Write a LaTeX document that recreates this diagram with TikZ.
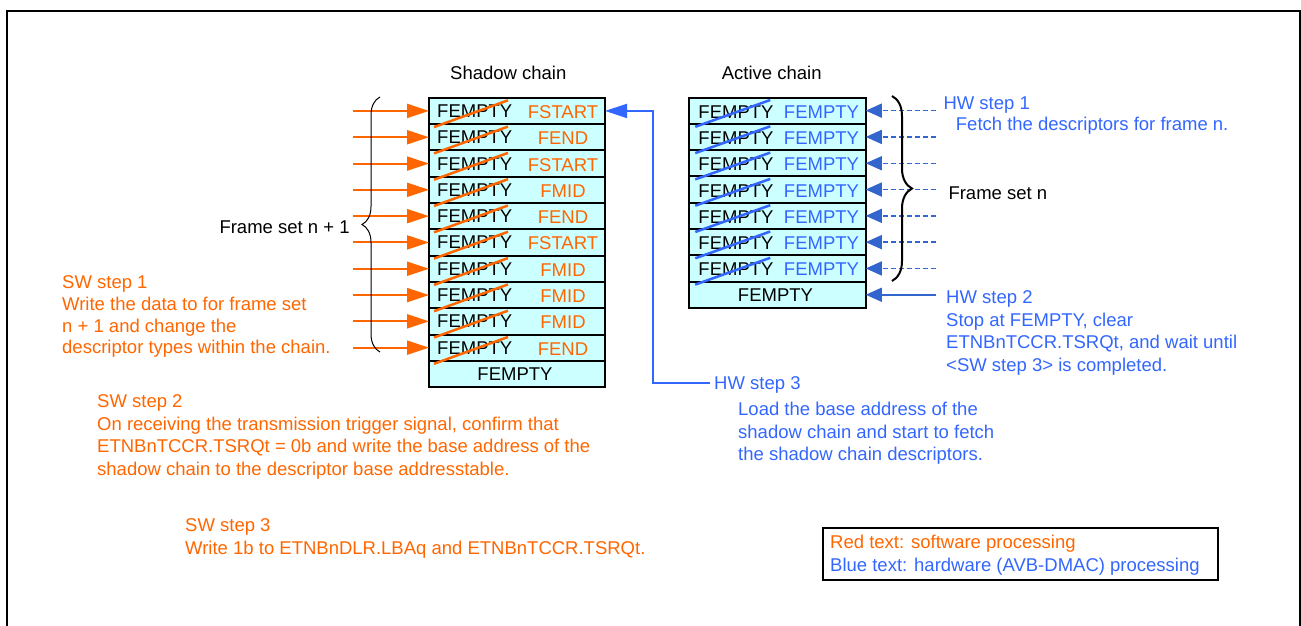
\documentclass[tikz,border=0pt]{standalone}
\usepackage{fontspec}
\setmainfont{Liberation Sans}
\usetikzlibrary{arrows.meta,calc,decorations.pathreplacing}
\definecolor{swc}{RGB}{255,102,0}
\definecolor{hwc}{RGB}{51,102,255}
\definecolor{hwa}{RGB}{51,102,204}
\definecolor{cellc}{RGB}{204,255,255}
\newcommand\diagfs{\fontsize{18.5}{22}\selectfont}
\begin{document}
\begin{tikzpicture}[x=1pt,y=-1pt,
  cell/.style={draw, line width=2pt, fill=cellc, minimum width=176pt, minimum height=26.3pt, inner sep=0pt, outer sep=0pt},
  lbl/.style={inner sep=0pt, font=\diagfs},
  lw/.style={lbl, anchor=base west},
  oarr/.style={draw=swc, line width=2pt, -{Triangle[length=22pt,width=14pt]}},
  barr/.style={draw=hwa, line width=1.5pt, -{Triangle[length=16pt,width=14pt]}},
  hwarr/.style={draw=hwc, line width=2pt, -{Triangle[length=22pt,width=14pt]}},
  ostrike/.style={draw=swc, line width=2.5pt},
  bstrike/.style={draw=hwc, line width=2.5pt}]
\useasboundingbox (0,0) rectangle (1301,626);
% outer frame
\draw[line width=2pt] (6.8,640) -- (6.8,11) -- (1299.5,11) -- (1299.5,640);

% ---- shadow chain
\foreach \i/\lab in {1/FSTART,2/FEND,3/FSTART,4/FMID,5/FEND,6/FSTART,7/FMID,8/FMID,9/FMID,10/FEND}{
  \node[cell] (s\i) at (517,{84.65+26.3*\i}) {};
  \node[lw] (sl\i) at ($(s\i.west)+(8,6.5)$) {FEMPTY};
  \node[lbl, anchor=base, text=swc] (sr\i) at ($(s\i.center)+(46,7.5)$) {\lab};
}
\node[cell] (s11) at (517,373.95) {};
\node[lbl, anchor=base] (sl11) at ($(s11.center)+(-2,7)$) {FEMPTY};
\foreach \i in {1,...,10}{
  \draw[ostrike] ($(s\i.south west)+(5,3)$) -- ($(s\i.north west)+(79,2.5)$);
}
\foreach \i in {1,...,10}{
  \coordinate (so\i) at (353,{84.65+26.3*\i});
  \draw[oarr] (so\i) -- (s\i.west);
}

% ---- active chain
\foreach \i in {1,...,7}{
  \node[cell, minimum width=176.5pt] (a\i) at (777.5,{84.35+26.3*\i}) {};
  \node[lw] (al\i) at ($(a\i.west)+(9,7.5)$) {FEMPTY};
  \node[lbl, anchor=base, text=hwc] (ar\i) at ($(a\i.center)+(44,7.5)$) {FEMPTY};
}
\node[cell, minimum width=176.5pt] (a8) at (777.5,294.75) {};
\node[lbl, anchor=base] (al8) at ($(a8.center)+(-2,7)$) {FEMPTY};
\foreach \i in {1,...,7}{
  \draw[bstrike] ($(a\i.south west)+(6,3)$) -- ($(a\i.north west)+(81,2.5)$);
}
\foreach \i in {1,...,7}{
  \coordinate (ad\i) at (936,{84.35+26.3*\i});
  \draw[barr, dash pattern=on 5pt off 3pt] (ad\i) -- (a\i.east);
}
\coordinate (h2s) at (936,294.75);
\draw[barr] (h2s) -- (a8.east);

% ---- braces
\draw[line width=1pt, decorate, decoration={brace, amplitude=18pt}] (380,352) -- (380,97);
\draw[line width=2pt, decorate, decoration={brace, amplitude=20pt}] (892,96) -- (892,281);

% ---- HW step 3 connector
\coordinate (h3e) at (710,383.3);
\coordinate (h3k) at (652.7,110.95);
\draw[hwarr] (h3e) -| (h3k) -- (s1.east);

% ---- titles
\node[lw] (tsh) at (450,80) {Shadow chain};
\node[lw] (tac) at (721.7,80) {Active chain};
\node[lw] (fsn1) at (219.3,233.3) {Frame set n + 1};
\node[lw] (fsn) at (948.3,199.5) {Frame set n};

% ---- HW texts
\node[lw, text=hwc] (hw1a) at (943.3,109.5) {HW step 1};
\node[lw, text=hwc] (hw1b) at (955.7,130) {Fetch the descriptors for frame n.};
\node[lw, text=hwc] (hw2a) at (946,303.5) {HW step 2};
\node[lw, text=hwc] (hw2b) at (946,326) {Stop at FEMPTY, clear};
\node[lw, text=hwc] (hw2c) at (946,348.5) {ETNBnTCCR.TSRQt, and wait until};
\node[lw, text=hwc] (hw2d) at (946,371) {<SW step 3> is completed.};
\node[lw, text=hwc] (hw3a) at (714,389.5) {HW step 3};
\node[lw, text=hwc] (hw3b) at (738,415.5) {Load the base address of the};
\node[lw, text=hwc] (hw3c) at (738,438) {shadow chain and start to fetch};
\node[lw, text=hwc] (hw3d) at (738,460.5) {the shadow chain descriptors.};

% ---- SW texts
\node[lw, text=swc] (sw1a) at (62,288) {SW step 1};
\node[lw, text=swc] (sw1b) at (62,310) {Write the data to for frame set};
\node[lw, text=swc] (sw1c) at (62,332) {n + 1 and change the};
\node[lw, text=swc] (sw1d) at (62,353.5) {descriptor types within the chain.};
\node[lw, text=swc] (sw2a) at (97,407.5) {SW step 2};
\node[lw, text=swc] (sw2b) at (97,430) {On receiving the transmission trigger signal, confirm that};
\node[lw, text=swc] (sw2c) at (97,452.5) {ETNBnTCCR.TSRQt = 0b and write the base address of the};
\node[lw, text=swc] (sw2d) at (97,475) {shadow chain to the descriptor base addresstable.};
\node[lw, text=swc] (sw3a) at (185,531.5) {SW step 3};
\node[lw, text=swc] (sw3b) at (185,554) {Write 1b to ETNBnDLR.LBAq and ETNBnTCCR.TSRQt.};

% ---- legend
\draw[line width=2pt] (822.7,528.3) rectangle (1217.7,580);
\node[lw, text=swc] (lg1) at (830,548.3) {Red text: software processing};
\node[lw, text=hwc] (lg2) at (830,571.7) {Blue text: hardware (AVB-DMAC) processing};
\end{tikzpicture}
\end{document}
